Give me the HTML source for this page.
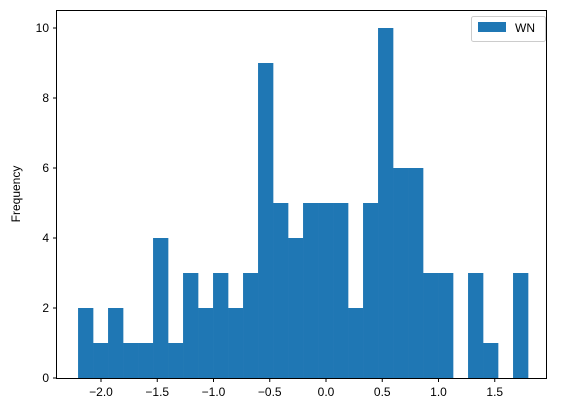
<!DOCTYPE html>
<html><head><meta charset="utf-8"><style>
body{margin:0;background:#fff;}
svg{display:block;font-family:"Liberation Sans","Noto Sans CJK JP",sans-serif;}
</style></head><body>
<svg id="c" width="561" height="412"></svg>
<script>
const counts=[2,1,2,1,1,4,1,3,2,3,2,3,9,5,4,5,5,5,2,5,10,6,6,3,3,0,3,1,0,3];
const binStart=-2.204;
const binWidth=0.13333;
const xTicks=[-2.0,-1.5,-1.0,-0.5,0.0,0.5,1.0,1.5];
const xTickLabels=["−2.0","−1.5","−1.0","−0.5","0.0","0.5","1.0","1.5"];
const yTicks=[0,2,4,6,8,10];
const L=56,R=546,T=10,B=378;
const xs=v=>326+v*112.5;
const ys=v=>B-v*35;
const NS="http://www.w3.org/2000/svg";
const svg=document.getElementById('c');
function mk(t,a){const e=document.createElementNS(NS,t);for(const k in a)e.setAttribute(k,a[k]);svg.appendChild(e);return e;}
counts.forEach((c,i)=>{
  if(c<=0)return;
  const x0=xs(binStart+i*binWidth),x1=xs(binStart+(i+1)*binWidth);
  const r=mk('rect',{x:x0,y:ys(c),width:x1-x0+0.3,height:ys(0)-ys(c),fill:'#1f77b4'});
  
  
});
const f=mk('rect',{x:L+0.5,y:T+0.5,width:R-L,height:B-T,fill:'none',stroke:'#000','stroke-width':1});


xTicks.forEach((v,i)=>{
  const x=xs(v);
  mk('line',{x1:x,x2:x,y1:B+0.5,y2:B+4,stroke:'#000'});
  const t=mk('text',{x:x,y:B+18,'text-anchor':'middle','font-size':12,fill:'#000'});
  t.textContent=xTickLabels[i];
  
  
});
yTicks.forEach(v=>{
  const y=ys(v);
  mk('line',{x1:L-3,x2:L+0.5,y1:y,y2:y,stroke:'#000'});
  const t=mk('text',{x:L-7,y:y+4,'text-anchor':'end','font-size':12,fill:'#000'});
  t.textContent=v;
  
  
});
const yt=mk('text',{x:20,y:(T+B)/2,'text-anchor':'middle','font-size':12,transform:'rotate(-90 20 '+((T+B)/2)+')'});
yt.textContent='Frequency';


const lg=mk('rect',{x:471.5,y:16.5,width:74,height:25,rx:2,fill:'#fff',stroke:'#ccc'});


const lp=mk('rect',{x:478,y:22,width:28,height:10,fill:'#1f77b4'});


const lt=mk('text',{x:515,y:32,'font-size':12});
lt.textContent='WN';


</script>
</body></html>
